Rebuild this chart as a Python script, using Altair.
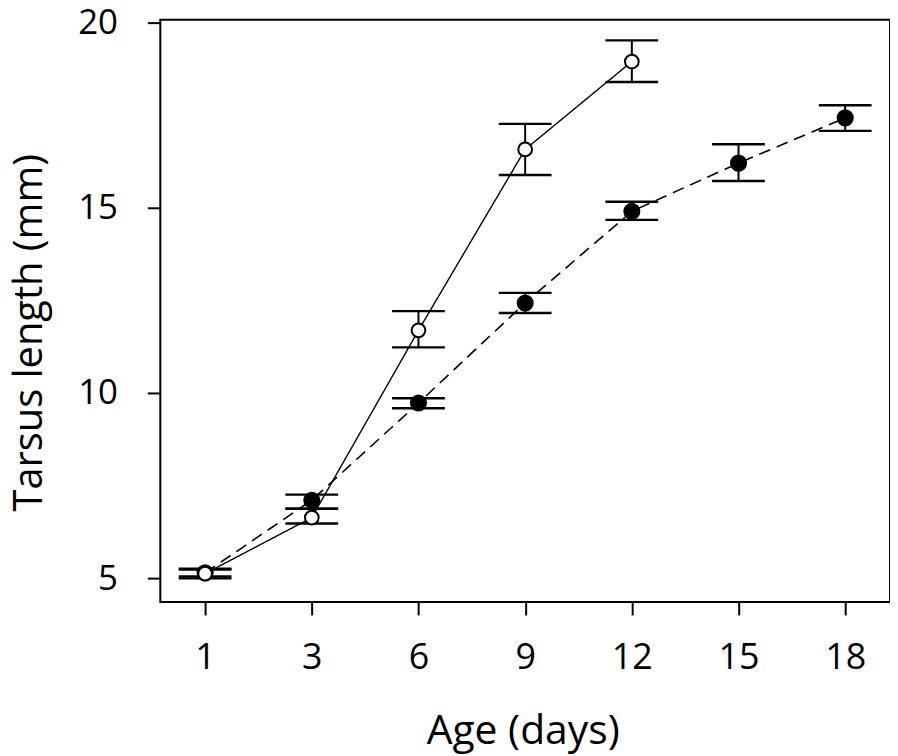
import altair as alt
import pandas as pd

days = ["1", "3", "6", "9", "12", "15", "18"]

# Open circles (solid line)
open_days = ["1", "3", "6", "9", "12"]
open_mean = [5.13, 6.64, 11.69, 16.57, 18.94]
open_lo = [5.00, 6.48, 11.23, 15.88, 18.39]
open_hi = [5.26, 6.88, 12.21, 17.26, 19.51]

# Filled circles (dashed line)
filled_days = ["1", "3", "6", "9", "12", "15", "18"]
filled_mean = [5.15, 7.11, 9.73, 12.43, 14.90, 16.20, 17.42]
filled_lo = [5.05, 6.88, 9.59, 12.16, 14.67, 15.72, 17.07]
filled_hi = [5.24, 7.26, 9.86, 12.70, 15.16, 16.71, 17.76]

df_open = pd.DataFrame({"day": open_days, "mean": open_mean, "lo": open_lo, "hi": open_hi})
df_filled = pd.DataFrame({"day": filled_days, "mean": filled_mean, "lo": filled_lo, "hi": filled_hi})

FONT = "Open Sans"

x_enc = alt.X(
    "day:O",
    sort=days,
    scale=alt.Scale(type="point", domain=days, padding=0.42),
    axis=alt.Axis(
        title="Age (days)",
        labelAngle=0,
        labelFontSize=36,
        labelFont=FONT,
        labelColor="black",
        labelBaseline="alphabetic",
        labelPadding=54,
        tickSize=13,
        tickWidth=2,
        tickColor="black",
        domain=False,
        grid=False,
        titleFontSize=41,
        titleFont=FONT,
        titleFontWeight="normal",
        titleColor="black",
        titleX=364,
        titleY=142,
        titleAlign="center",
        titleBaseline="alphabetic",
    ),
)

y_scale = alt.Scale(domain=[4.364, 20.07], nice=False, zero=False)
y_axis = alt.Axis(
    title="Tarsus length (mm)",
    values=[5, 10, 15, 20],
    labelFontSize=35,
    labelFont=FONT,
    labelColor="black",
    labelPadding=30,
    tickSize=13,
    tickWidth=2,
    tickColor="black",
    domain=False,
    grid=False,
    titleFontSize=40,
    titleFont=FONT,
    titleFontWeight="normal",
    titleColor="black",
    titleAngle=270,
    titleX=-119,
    titleY=314,
    titleAlign="center",
    titleBaseline="alphabetic",
)


def layers(df, dashed, filled):
    base = alt.Chart(df)
    line = base.mark_line(
        color="black",
        strokeWidth=1.6 if dashed else 1.4,
        strokeDash=[12, 7] if dashed else [1, 0],
    ).encode(x=x_enc, y=alt.Y("mean:Q", scale=y_scale, axis=y_axis))
    stem = base.mark_rule(color="black", strokeWidth=2).encode(
        x=x_enc, y=alt.Y("lo:Q", scale=y_scale), y2="hi:Q"
    )
    cap_lo = base.mark_tick(color="black", size=53, thickness=2.4, opacity=1).encode(
        x=x_enc, y=alt.Y("lo:Q", scale=y_scale)
    )
    cap_hi = base.mark_tick(color="black", size=53, thickness=2.4, opacity=1).encode(
        x=x_enc, y=alt.Y("hi:Q", scale=y_scale)
    )
    pts = base.mark_point(
        shape="circle",
        filled=True,
        size=230 if filled else 190,
        color="black" if filled else "white",
        stroke="black",
        strokeWidth=2,
        opacity=1,
    ).encode(x=x_enc, y=alt.Y("mean:Q", scale=y_scale))
    return [line, stem, cap_lo, cap_hi, pts]


chart = alt.layer(
    *layers(df_filled, True, True),
    *layers(df_open, False, False),
).properties(
    width=733,
    height=585,
    autosize=alt.AutoSizeParams(type="none"),
    padding={"left": 153, "top": 10, "right": 0, "bottom": 153},
    background="white",
).configure_view(
    stroke="black", strokeWidth=2
)

chart.save("out.html", embed_options={"renderer": "svg", "actions": False})
